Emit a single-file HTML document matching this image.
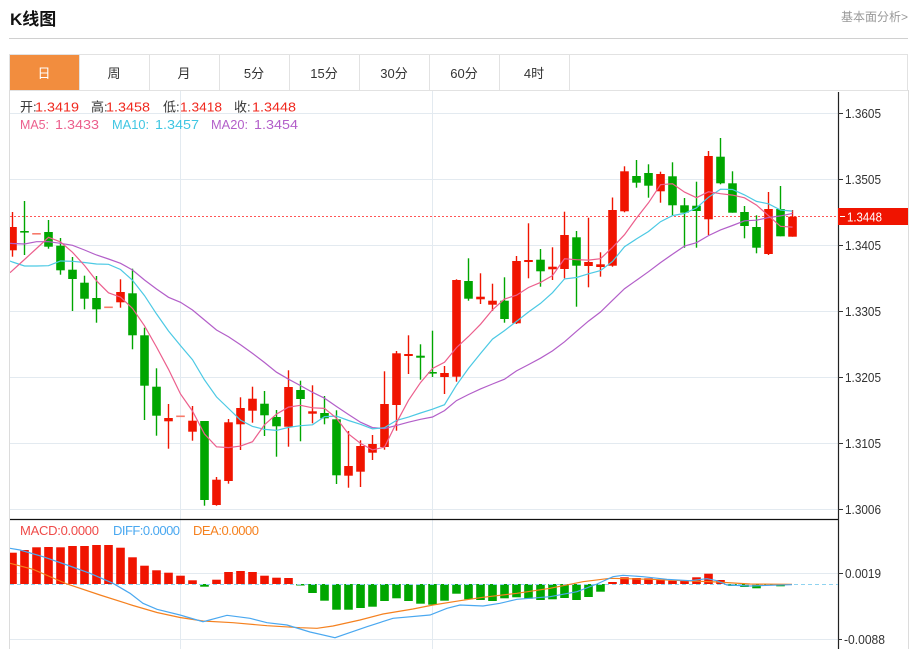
<!DOCTYPE html>
<html><head><meta charset="utf-8"><title>K线图</title>
<style>
*{margin:0;padding:0}
html,body{width:917px;height:649px;overflow:hidden;background:#fff}
svg{position:absolute;left:0;top:0}
text{font-family:"Liberation Sans","Noto Sans CJK SC",sans-serif}
</style></head><body>
<svg id="s" width="917" height="649" viewBox="0 0 917 649" xmlns="http://www.w3.org/2000/svg">
<defs>
<clipPath id="cp"><rect x="10" y="91" width="828" height="428"/></clipPath>
<clipPath id="cm"><rect x="10" y="520" width="828" height="129"/></clipPath>
</defs>
<!-- header -->
<text x="10" y="25" font-size="17" font-weight="bold" fill="#111">K线图</text>
<text x="841" y="21" font-size="12" fill="#999">基本面分析&gt;</text>
<rect x="9" y="38" width="899" height="1" fill="#d0d0d0"/>
<!-- tabs -->
<rect x="9.5" y="54.5" width="898" height="36" fill="#fff" stroke="#e2e2e2"/>
<rect x="10" y="55" width="69" height="35" fill="#f28d3e"/>
<g stroke="#e2e2e2" stroke-width="1">
<line x1="79.5" y1="55" x2="79.5" y2="90"/><line x1="149.5" y1="55" x2="149.5" y2="90"/>
<line x1="219.5" y1="55" x2="219.5" y2="90"/><line x1="289.5" y1="55" x2="289.5" y2="90"/>
<line x1="359.5" y1="55" x2="359.5" y2="90"/><line x1="429.5" y1="55" x2="429.5" y2="90"/>
<line x1="499.5" y1="55" x2="499.5" y2="90"/><line x1="569.5" y1="55" x2="569.5" y2="90"/>
</g>
<g font-size="13" text-anchor="middle" fill="#333">
<text x="44" y="78" fill="#fff">日</text>
<text x="114" y="78">周</text>
<text x="184" y="78">月</text>
<text x="254" y="78">5分</text>
<text x="324" y="78">15分</text>
<text x="394" y="78">30分</text>
<text x="464" y="78">60分</text>
<text x="534" y="78">4时</text>
</g>
<!-- frame -->
<line x1="9.5" y1="90" x2="9.5" y2="649" stroke="#dcdcdc"/>
<line x1="908.5" y1="90" x2="908.5" y2="649" stroke="#dcdcdc"/>
<!-- grid -->
<g stroke="#e3eaf0" stroke-width="1">
<line x1="180.5" y1="91" x2="180.5" y2="649"/>
<line x1="432.5" y1="91" x2="432.5" y2="649"/>
<line x1="10" y1="113.5" x2="838" y2="113.5"/>
<line x1="10" y1="179.5" x2="838" y2="179.5"/>
<line x1="10" y1="245.5" x2="838" y2="245.5"/>
<line x1="10" y1="311.5" x2="838" y2="311.5"/>
<line x1="10" y1="377.5" x2="838" y2="377.5"/>
<line x1="10" y1="443.5" x2="838" y2="443.5"/>
<line x1="10" y1="509.5" x2="838" y2="509.5"/>
<line x1="10" y1="573.5" x2="838" y2="573.5"/>
<line x1="10" y1="639.5" x2="838" y2="639.5"/>
</g>
<!-- axes -->
<line x1="10" y1="519.5" x2="838" y2="519.5" stroke="#111" stroke-width="1.2"/>
<line x1="838.5" y1="92" x2="838.5" y2="649" stroke="#222" stroke-width="1.2"/>
<g stroke="#333" stroke-width="1">
<line x1="838" y1="113.5" x2="843" y2="113.5"/>
<line x1="838" y1="179.5" x2="843" y2="179.5"/>
<line x1="838" y1="245.5" x2="843" y2="245.5"/>
<line x1="838" y1="311.5" x2="843" y2="311.5"/>
<line x1="838" y1="377.5" x2="843" y2="377.5"/>
<line x1="838" y1="443.5" x2="843" y2="443.5"/>
<line x1="838" y1="509.5" x2="843" y2="509.5"/>
<line x1="838" y1="573.5" x2="843" y2="573.5"/>
<line x1="838" y1="639.5" x2="842" y2="639.5"/>
</g>
<g font-size="13" fill="#333">
<text x="845" y="118" textLength="36" lengthAdjust="spacingAndGlyphs">1.3605</text>
<text x="845" y="184" textLength="36" lengthAdjust="spacingAndGlyphs">1.3505</text>
<text x="845" y="250" textLength="36" lengthAdjust="spacingAndGlyphs">1.3405</text>
<text x="845" y="316" textLength="36" lengthAdjust="spacingAndGlyphs">1.3305</text>
<text x="845" y="382" textLength="36" lengthAdjust="spacingAndGlyphs">1.3205</text>
<text x="845" y="448" textLength="36" lengthAdjust="spacingAndGlyphs">1.3105</text>
<text x="845" y="514" textLength="36" lengthAdjust="spacingAndGlyphs">1.3006</text>
<text x="845" y="578" textLength="36" lengthAdjust="spacingAndGlyphs">0.0019</text>
<text x="844" y="644" textLength="41" lengthAdjust="spacingAndGlyphs">-0.0088</text>
</g>
<!-- price label -->
<rect x="838" y="208" width="70" height="17" fill="#f01400"/>
<line x1="840" y1="216.5" x2="845" y2="216.5" stroke="#fff"/>
<text x="847" y="221.5" font-size="13" fill="#fff" textLength="35" lengthAdjust="spacingAndGlyphs">1.3448</text>
<!-- legend -->
<g font-size="13">
<text x="20" y="111.5" fill="#333">开:</text><text x="35" y="111.5" fill="#f0281e" textLength="44" lengthAdjust="spacingAndGlyphs">1.3419</text>
<text x="91" y="111.5" fill="#333">高:</text><text x="106" y="111.5" fill="#f0281e" textLength="44" lengthAdjust="spacingAndGlyphs">1.3458</text>
<text x="163" y="111.5" fill="#333">低:</text><text x="180" y="111.5" fill="#f0281e" textLength="42" lengthAdjust="spacingAndGlyphs">1.3418</text>
<text x="234" y="111.5" fill="#333">收:</text><text x="252" y="111.5" fill="#f0281e" textLength="44" lengthAdjust="spacingAndGlyphs">1.3448</text>

<text x="20" y="129" fill="#ec5f8d" textLength="29" lengthAdjust="spacingAndGlyphs">MA5:</text>
<text x="55" y="129" fill="#ec5f8d" textLength="44" lengthAdjust="spacingAndGlyphs">1.3433</text>
<text x="112" y="129" fill="#3fc6e2" textLength="37" lengthAdjust="spacingAndGlyphs">MA10:</text>
<text x="155" y="129" fill="#3fc6e2" textLength="44" lengthAdjust="spacingAndGlyphs">1.3457</text>
<text x="211" y="129" fill="#b35fc9" textLength="37" lengthAdjust="spacingAndGlyphs">MA20:</text>
<text x="254" y="129" fill="#b35fc9" textLength="44" lengthAdjust="spacingAndGlyphs">1.3454</text>

<text x="20" y="535" fill="#ef4a48" textLength="79" lengthAdjust="spacing">MACD:0.0000</text>
<text x="113" y="535" fill="#4aa8f0" textLength="67" lengthAdjust="spacing">DIFF:0.0000</text>
<text x="193" y="535" fill="#f5811f" textLength="66" lengthAdjust="spacing">DEA:0.0000</text>
</g>
<g id="pg" clip-path="url(#cp)">
<line x1="10" y1="216.5" x2="838" y2="216.5" stroke="#f55" stroke-width="1" stroke-dasharray="2,2"/>
</g>
<g id="mg" clip-path="url(#cm)"></g>
</svg>
<script>
(function(){
var NS="http://www.w3.org/2000/svg";
var pg=document.getElementById('pg'), mg=document.getElementById('mg');
function el(t,a,p){var e=document.createElementNS(NS,t);for(var k in a)e.setAttribute(k,a[k]);p.appendChild(e);return e;}
var R="#f01400",G="#00a600",F="#f77a6a";
var K=[
[250.3,227,212,256.7,'r'],[231,232.5,201,255,'g'],[234,233,233,234,'f'],[232,246.7,220,248.7,'g'],
[245.7,270.3,238,274.7,'g'],[269.7,279,257,311,'g'],[282.7,298.7,275.7,309.3,'g'],[298,309.3,276,322.7,'g'],
[307.5,306.5,306.5,307.5,'f'],[302.3,292,279.3,307.7,'r'],[293.3,335.3,268.7,349.3,'g'],[335.3,385.7,327.7,420,'g'],
[386.7,415.7,368.3,435.7,'g'],[421.3,418,404,448.7,'r'],[416.5,415.5,415.5,416.5,'f'],[431.7,420.7,406,440.7,'r'],
[421,500,421,505.7,'g'],[505,479.7,477,505.7,'r'],[481,422.3,419,483.7,'r'],[424.3,408,397.3,450,'r'],
[410.7,398.7,386.7,422.7,'r'],[403.7,415.3,391,436,'g'],[417,426.3,410,456.7,'g'],[426.7,387,370.3,446.7,'r'],
[390,399,380.7,441.3,'g'],[413.7,411.3,385.3,423.3,'r'],[413,418.3,396,424.3,'g'],[419.3,475.3,410.3,484,'g'],
[475.7,466,431,487.7,'r'],[471.7,446,440.3,487,'r'],[452.7,444,435,460,'r'],[447,404,371.3,449.7,'r'],
[405,353.3,351,430.7,'r'],[356,354,335.3,374,'r'],[355.7,357.7,344.3,379.7,'g'],[372,373.3,330.7,377,'g'],
[377,373,366,394,'r'],[376.7,280,279.3,381.7,'r'],[281,298.7,258.3,300.7,'g'],[299.3,296.7,273.3,304,'r'],
[304.7,300.7,283.7,311,'r'],[300.7,319,277.3,322.7,'g'],[323.3,261,256,324,'r'],[262,260,223.3,278.3,'r'],
[259.7,271.3,249,286.7,'g'],[269.3,266.7,247.3,280,'r'],[269,235,211.7,278.3,'r'],[237.3,265.7,231,306.7,'g'],
[266,262,217.7,287.3,'r'],[267,264.3,252.3,276.7,'r'],[265.7,210,197.5,266.7,'r'],[211.3,171.3,166.3,212.3,'r'],
[176,182.7,160,187.7,'g'],[173,185.7,164.3,197.7,'g'],[191.3,174,171.7,202.7,'r'],[176.3,205.3,162.3,215.3,'g'],
[205.3,212.7,198,247.7,'g'],[205.7,211,181.7,247.7,'g'],[219.3,156,151,235,'r'],[156.7,183.3,138,184.3,'g'],
[183.3,212.7,171.3,212.7,'g'],[212,226,206,238.3,'g'],[227,247.7,215.3,253.3,'g'],[254,209,192,255,'r'],
[209,236.3,186,236.3,'g'],[236.7,216.7,210,236.7,'r']
];
function cx(i){return 12.5+12*i;}
var closes=K.map(function(k){return k[1];});
function ma(n,pre,start){
  var pts=[[10,start]];
  for(var i=0;i<closes.length;i++){
    var v;
    if(i>=n-1){var s=0;for(var j=i-n+1;j<=i;j++)s+=closes[j];v=s/n;}else v=pre[i];
    pts.push([cx(i),v]);
  }
  return pts.map(function(p){return p[0].toFixed(1)+","+p[1].toFixed(1);}).join(" ");
}
var p5=[270.4,259.5,248.5,237.3];
var p10=[262,266,266,265.7,261,261.3,262.5,264,264.3];
var p20=[243.5,244,241.7,241.7,243.3,245.3,250,255,259,263.3,270,280,289,297.3,302.3,310,320,330,336.7];
K.forEach(function(k,i){
  var o=k[0],c=k[1],h=k[2],l=k[3],t=k[4],x=cx(i);
  var col=t==='r'?R:(t==='g'?G:F);
  if(t!=='f' && l>h) el('rect',{x:(x-0.7).toFixed(1),y:h,width:1.4,height:(l-h).toFixed(1),fill:col},pg);
  var top=Math.min(o,c),bot=Math.max(o,c);
  el('rect',{x:(x-4.3).toFixed(1),y:top,width:8.6,height:Math.max(bot-top,1.6).toFixed(1),fill:col},pg);
});
el('polyline',{points:ma(20,p20,243.3),fill:"none",stroke:"#b35fc9","stroke-width":1.2},pg);
el('polyline',{points:ma(10,p10,261),fill:"none",stroke:"#4cc9e4","stroke-width":1.2},pg);
el('polyline',{points:ma(5,p5,272.7),fill:"none",stroke:"#ec5f8d","stroke-width":1.2},pg);
var Z=584;
var H=[552.7,550,547.3,547,547.3,546,546,545,545,547.7,
557.3,565.7,570.3,572.7,575.7,580.3,586.7,579.7,572,571,
572,575.7,577.7,578,585.5,593,600.7,609.7,609.7,608,
606.7,601,598.3,601,603.7,604.7,600.7,593.7,599.3,600,
601,598.3,597.3,598.7,600,599.3,598,600,597,591.7,
582,577.3,578,578.3,580,580.7,580.7,577.3,573.7,580,
586,587,588.3,585.5,586.3,584];
H.forEach(function(v,i){
  if(Math.abs(v-Z)<0.3)return;
  var x=cx(i),col=v<Z?R:G;
  el('rect',{x:(x-4.3).toFixed(1),y:Math.min(v,Z),width:8.6,height:Math.abs(v-Z).toFixed(1),fill:col},mg);
});
el('line',{x1:10,y1:Z+0.5,x2:838,y2:Z+0.5,stroke:"#8fd3f0","stroke-width":1,"stroke-dasharray":"4,3"},mg);
var DIFF=[[10,548.3],[20,550],[43,556.7],[67,565],[90,573.3],[113,583.3],[130,593.3],[143,603.3],[157,609.3],[180,615],[203,621.7],[227,615.3],[250,618.3],[267,622.7],[287,625],[310,632],[335,637.7],[367,626.7],[393,618.3],[430,615],[447,608.3],[460,605],[483,606],[500,603.3],[517,599.3],[550,596.7],[577,591.7],[597,584],[613,576.7],[623,575.3],[643,576.7],[667,579.3],[690,580.7],[707,578.7],[717,580.7],[727,585],[750,586],[770,585.3],[792,584.7]];
var DEA=[[10,563.3],[33,569.3],[67,584],[100,595],[133,605.5],[157,612.5],[180,617.5],[203,621],[233,622.7],[267,625.7],[300,627.7],[317,628.3],[333,626],[360,620],[383,614],[413,609],[433,605],[460,600.7],[483,597.3],[517,593.3],[550,588.3],[583,581.7],[610,578.3],[650,579.3],[683,580.7],[717,582],[750,584],[792,584.3]];
function pts(a){return a.map(function(p){return p[0]+","+p[1];}).join(" ");}
el('polyline',{points:pts(DEA),fill:"none",stroke:"#f5811f","stroke-width":1.2},mg);
el('polyline',{points:pts(DIFF),fill:"none",stroke:"#4aa8f0","stroke-width":1.2},mg);
})();
</script>
</body></html>
